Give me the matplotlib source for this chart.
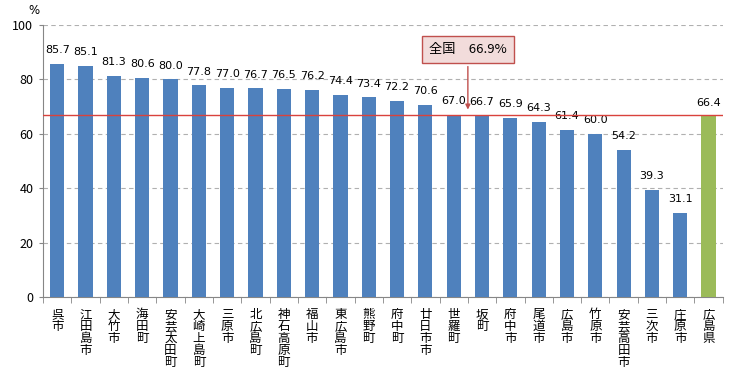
import numpy as np
import matplotlib.pyplot as plt

plt.rcParams['font.family'] = ['Noto Sans CJK JP', 'DejaVu Sans']

# Daten
names = ["呉市", "江田島市", "大竹市", "海田町", "安芸太田町", "大崎上島町", "三原市",
         "北広島町", "神石高原町", "福山市", "東広島市", "熊野町", "府中町", "廿日市市",
         "世羅町", "坂町", "府中市", "尾道市", "広島市", "竹原市", "安芸高田市", "三次市",
         "庄原市", "広島県"]
values = [85.7, 85.1, 81.3, 80.6, 80.0, 77.8, 77.0, 76.7, 76.5, 76.2, 74.4, 73.4, 72.2,
          70.6, 67.0, 66.7, 65.9, 64.3, 61.4, 60.0, 54.2, 39.3, 31.1, 66.4]
national = 66.9
yticks = [0, 20, 40, 60, 80, 100]

x = np.arange(len(names))
colors = ["#4f81bd"] * (len(names) - 1) + ["#9bbb59"]

fig = plt.figure(figsize=(7.56, 3.79), dpi=100)
ax = fig.add_axes([0.057, 0.216, 0.899, 0.718])

ax.bar(x, values, width=0.5, color=colors, zorder=3)
for xi, v in zip(x, values):
    ax.text(xi, v + 3.2, f"{v:.1f}", ha="center", va="bottom", fontsize=8,
            family="DejaVu Sans", zorder=4)

ax.axhline(national, color="#d9423c", linewidth=1.0, zorder=5)

ax.annotate(f"全国　{national}%", xy=(14.5, national + 1.0), xytext=(14.5, 91),
            ha="center", va="center", fontsize=9.5,
            bbox=dict(boxstyle="square,pad=0.55", fc="#f2dcdb", ec="#c0504d", lw=1),
            arrowprops=dict(arrowstyle="-|>", color="#c0504d", lw=1, mutation_scale=7),
            zorder=6)

ax.set_xlim(-0.5, len(names) - 0.5)
ax.set_ylim(0, 100)
ax.set_yticks(yticks)
ax.tick_params(axis="y", labelsize=9, length=3, color="#868686", pad=4)
ax.yaxis.grid(True, linestyle=(0, (4, 3)), color="#b0b0b0", linewidth=0.8, zorder=0)

ax.set_xticks(x)
ax.set_xticklabels(["\n".join(n) for n in names], fontsize=9, linespacing=0.9,
                   va="top")
ax.tick_params(axis="x", which="major", length=0, pad=8)
ax.set_xticks(np.arange(-0.5, len(names)), minor=True)
ax.tick_params(axis="x", which="minor", length=4, color="#868686")

for s in ["top", "right"]:
    ax.spines[s].set_visible(False)
for s in ["left", "bottom"]:
    ax.spines[s].set_color("#868686")

fig.text(0.045, 0.955, "%", fontsize=8.5, ha="center", va="bottom", family="DejaVu Sans")

fig.savefig("out.png", dpi=100)
